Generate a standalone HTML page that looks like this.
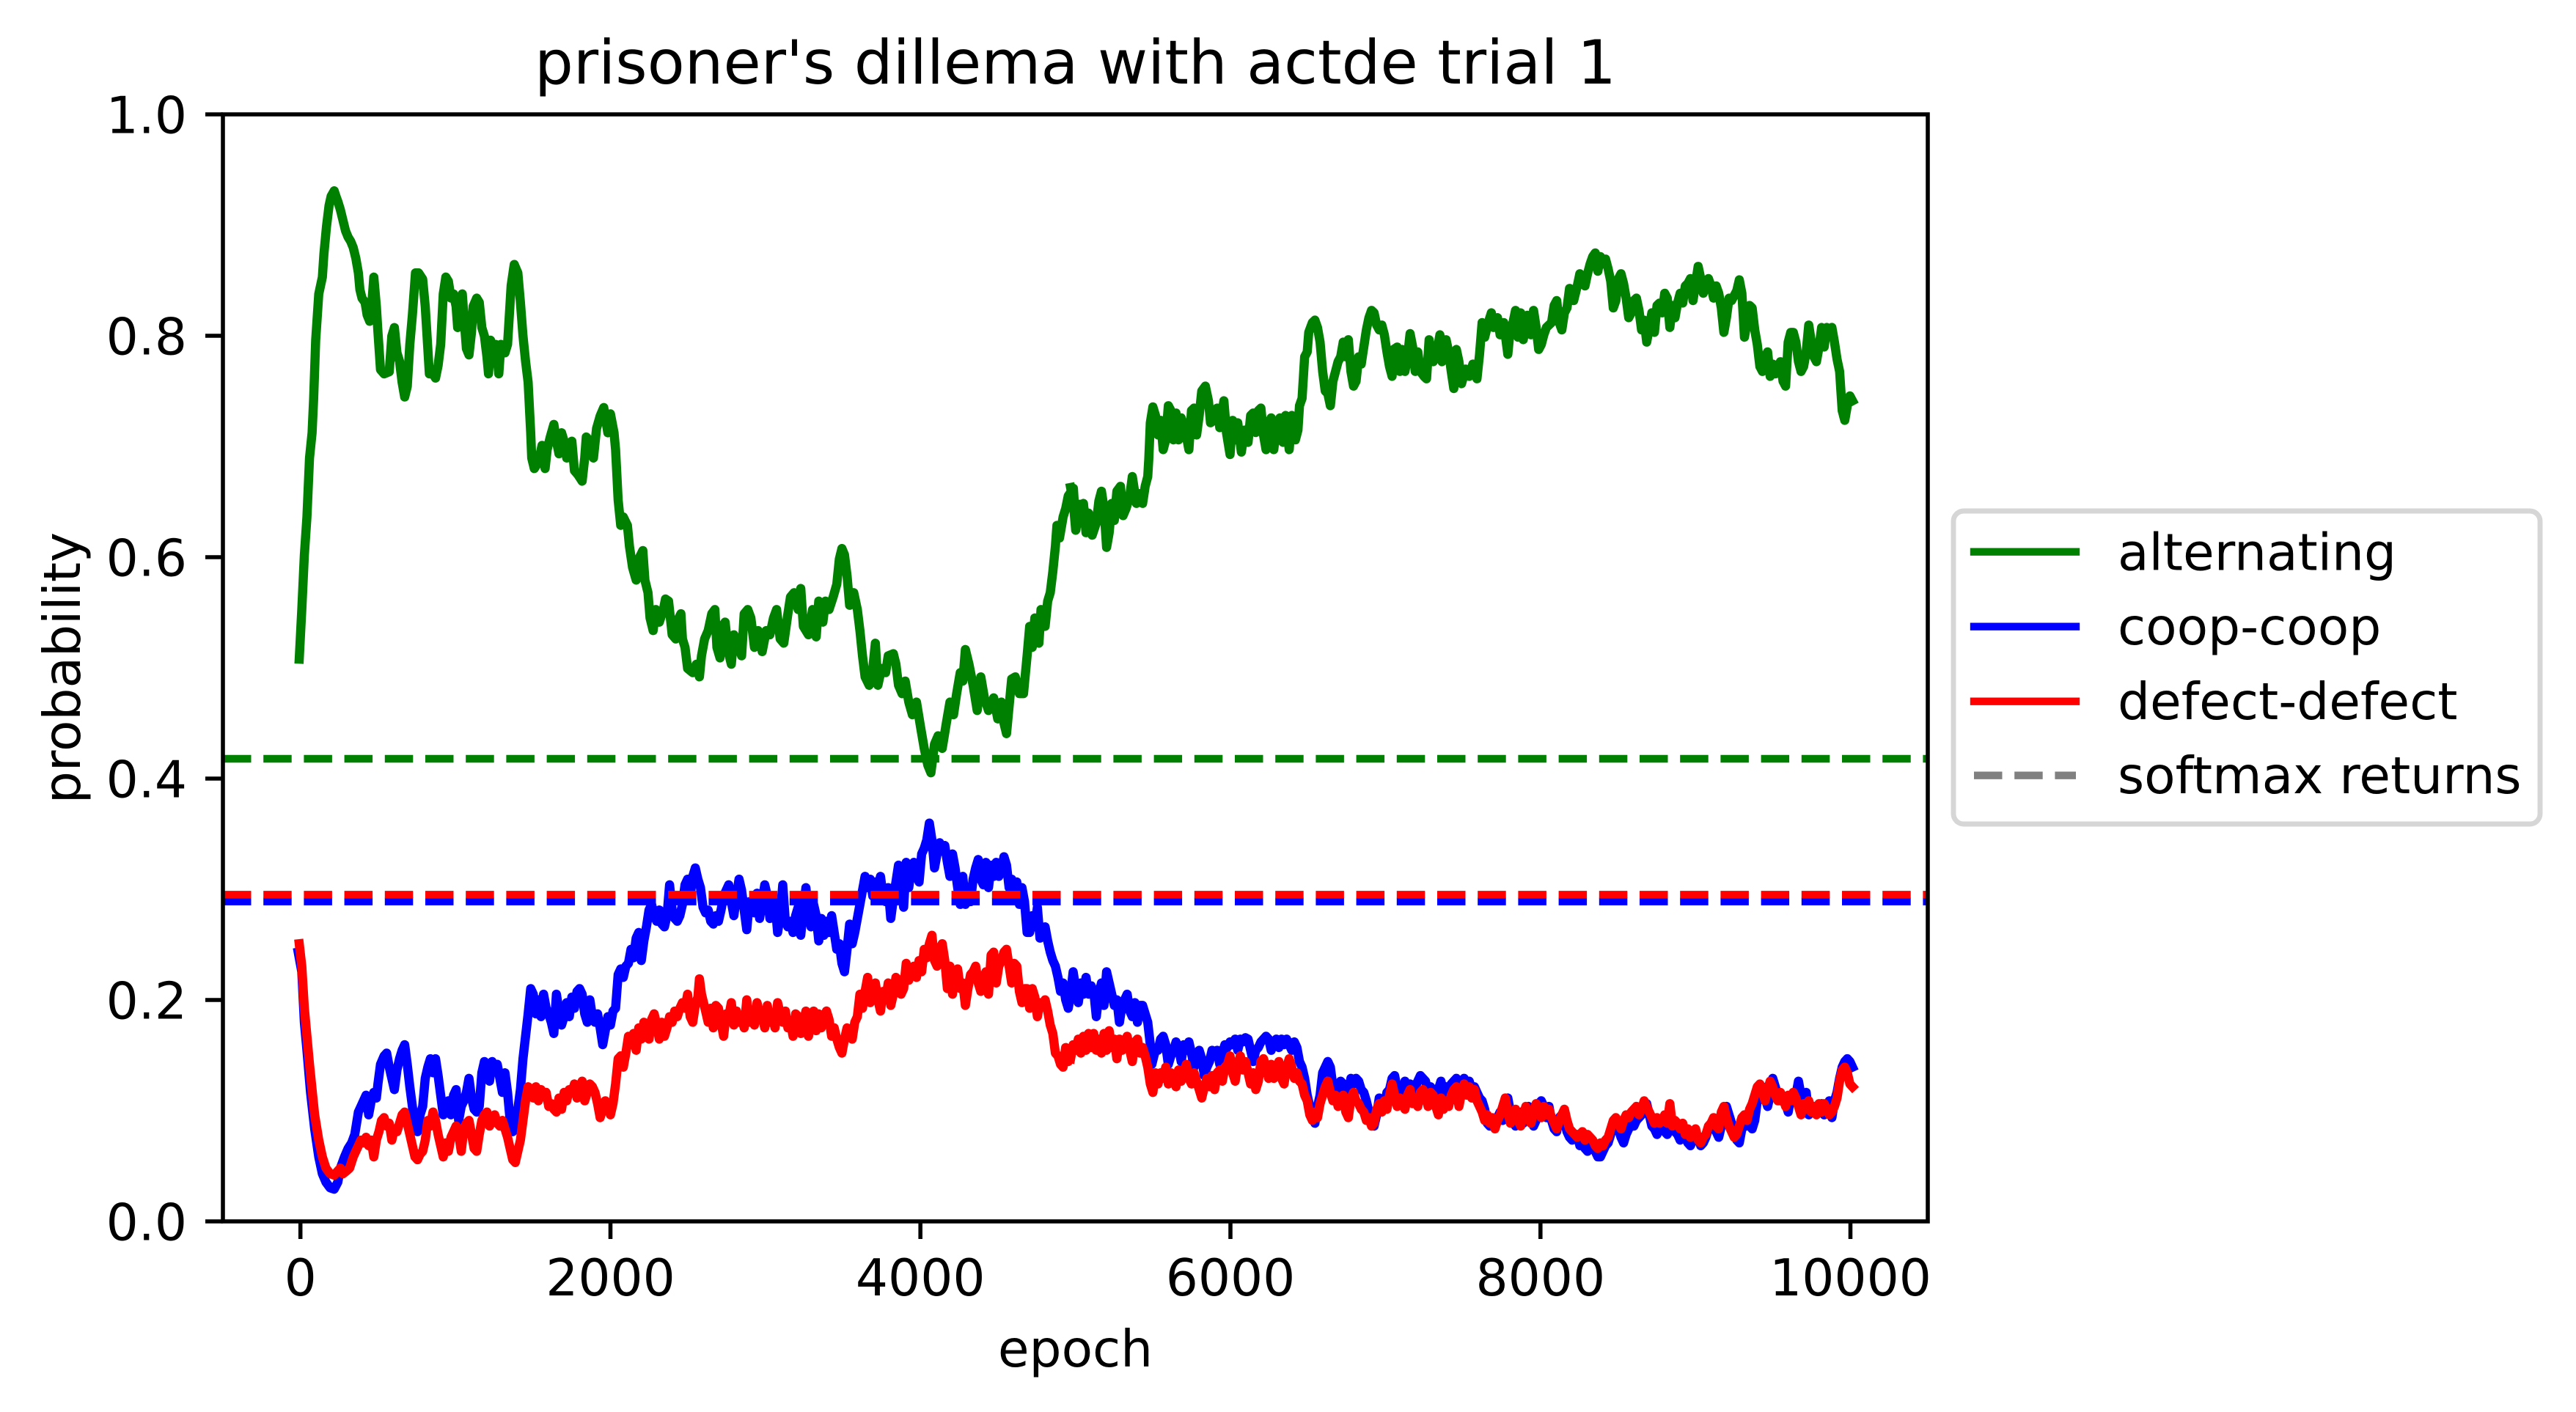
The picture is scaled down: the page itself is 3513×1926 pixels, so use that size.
<!DOCTYPE html>
<html>
<head>
<meta charset="utf-8">
<style>
html,body{margin:0;padding:0;background:#fff;}
svg{display:block;}
text{font-family:"DejaVu Sans","Liberation Sans",sans-serif;fill:#000;}
.s{fill:none;stroke-width:12.5;stroke-linejoin:round;stroke-linecap:square;vector-effect:non-scaling-stroke;}
</style>
</head>
<body>
<svg width="3513" height="1926" viewBox="0 0 3513 1926" xmlns="http://www.w3.org/2000/svg">
<rect x="0" y="0" width="3513" height="1926" fill="#fff"/>

<!-- green series -->
<g transform="translate(380,200) scale(0.70151,0.57399)">
<polyline class="s" stroke="#008000" points="40,1218 45,1100 50,970 55,880 60,740 65,680 68,600 72,460 78,350 85,310 88,255 93,190 98,140 102,118 108,105 112,120 115,130 120,150 125,175 130,200 135,215 140,225 145,240 150,265 155,300 158,340 162,360 168,370 172,400 177,415 182,360 185,310 190,380 193,440 198,530 205,540 215,535 220,450 225,430 230,490 235,510 240,560 245,595 250,570 255,470 260,400 263,350 266,300 272,300 280,315 285,380 290,480 293,540 300,540 305,550 310,520 315,470 320,350 325,310 330,320 335,360 340,350 345,380 348,430 352,420 357,350 360,400 365,480 370,495 375,440 378,380 385,360 390,370 395,430 400,450 405,500 408,540 412,460 418,500 422,470 428,540 432,470 440,490 445,470 448,410 452,330 458,280 465,300 470,370 475,450 480,510 485,560 490,680 492,740 497,765 505,750 512,710 518,765 522,720 528,690 535,660 540,700 545,730 550,680 555,700 560,740 565,710 570,700 575,770 582,780 590,795 595,740 598,690 605,700 612,740 618,670 625,640 632,620 640,680 645,635 652,680 655,720 660,840 665,900 670,880 678,900 682,950 688,1000 695,1030 700,980 708,960 712,1030 718,1060 722,1120 728,1150 733,1100 740,1130 748,1100 752,1075 758,1080 765,1160 772,1170 778,1120 782,1110 785,1170 790,1190 795,1240 805,1250 812,1230 818,1260 822,1210 828,1170 835,1150 842,1110 848,1100 852,1190 858,1215 862,1140 868,1130 874,1200 880,1230 885,1160 892,1180 900,1210 905,1110 912,1100 918,1120 925,1190 932,1150 940,1200 948,1150 955,1160 962,1120 968,1100 975,1170 982,1180 990,1110 995,1070 1002,1060 1010,1100 1015,1050 1020,1140 1030,1160 1038,1100 1045,1165 1050,1080 1058,1130 1063,1080 1070,1100 1078,1070 1085,1040 1090,980 1095,955 1100,970 1105,1020 1110,1090 1118,1060 1125,1100 1130,1150 1135,1210 1140,1260 1148,1280 1155,1240 1160,1180 1165,1280 1172,1240 1180,1250 1185,1210 1195,1205 1200,1230 1205,1280 1212,1300 1218,1270 1225,1320 1232,1350 1240,1320 1248,1380 1255,1430 1262,1470 1268,1488 1275,1420 1282,1400 1290,1430 1298,1370 1305,1320 1312,1350 1318,1300 1325,1250 1330,1270 1335,1195 1342,1230 1350,1280 1358,1340 1365,1260 1372,1310 1380,1340 1390,1310 1398,1360 1405,1320 1410,1370 1415,1395 1420,1330 1425,1265 1432,1260 1440,1300 1448,1300 1455,1210 1460,1140 1465,1190 1470,1120 1478,1180 1482,1100 1490,1140 1495,1080 1500,1060 1505,1010 1510,950 1513,900 1518,930 1525,880 1530,860 1535,830 1545,812 1550,910 1555,850 1563,850 1568,870"/>
</g>
<g transform="translate(1460,300) scale(0.70151,0.33333)">
<polyline class="s" stroke="#008000" points="0,1095 5,1150 10,1270 15,1180 20,1240 25,1160 30,1280 35,1200 42,1290 50,1240 55,1150 60,1110 65,1180 70,1340 75,1280 80,1160 85,1230 90,1110 97,1090 102,1210 108,1180 115,1130 120,1050 128,1160 135,1120 140,1160 145,1090 150,1050 152,980 155,830 160,765 165,800 170,880 175,820 180,940 185,900 190,760 195,780 200,900 205,790 210,900 215,810 222,850 230,940 235,780 240,770 245,880 250,800 255,700 262,680 268,740 272,830 278,820 285,770 290,850 298,740 303,870 310,960 315,820 320,900 325,830 332,950 338,860 345,910 350,800 355,790 360,870 365,780 370,770 375,880 380,940 385,830 390,810 395,940 400,850 407,810 413,910 418,800 425,940 430,800 437,900 442,860 445,760 450,730 455,560 460,540 463,460 470,420 475,410 480,440 485,500 490,620 495,700 500,710 505,760 510,660 515,620 520,580 525,560 530,500 535,560 540,490 545,620 550,680 555,660 560,560 565,590 570,520 575,450 580,400 585,370 590,380 595,430 600,450 605,430 610,470 615,540 620,600 625,640 628,530 635,520 640,620 645,530 650,620 655,560 660,465 665,520 670,620 675,540 680,620 687,640 692,650 697,490 702,560 705,580 712,540 718,470 722,580 730,490 735,540 740,620 745,690 750,530 755,580 760,670 768,610 775,640 782,590 790,650 795,550 800,420 805,480 812,420 818,380 822,440 830,400 835,470 842,420 850,550 855,440 860,420 865,370 870,480 875,380 880,490 888,390 895,470 900,370 905,440 910,530 915,510 920,470 925,440 930,430 935,420 940,350 945,330 950,420 955,450 960,380 965,360 970,280 978,330 985,270 990,220 995,240 1000,270 1005,220 1010,180 1015,150 1020,135 1025,210 1030,150 1035,180 1040,160 1045,200 1050,250 1055,360 1060,330 1065,240 1070,220 1075,260 1080,320 1085,400 1090,380 1095,330 1100,320 1105,370 1110,450 1115,410 1120,500 1125,440 1130,380 1135,460 1140,350 1145,340 1150,380 1155,300 1160,320 1165,440 1170,350 1175,400 1180,340 1185,300 1190,340 1195,270 1200,260 1205,240 1210,330 1215,260 1220,190 1225,240 1230,300 1235,250 1240,240 1245,270 1250,320 1255,270 1260,300 1265,360 1270,460 1275,400 1280,320 1285,330 1290,310 1295,290 1300,245 1305,300 1310,480 1315,420 1320,350 1325,360 1330,450 1335,510 1340,600 1345,620 1350,560 1355,540 1360,640 1365,590 1370,630 1375,600 1380,580 1385,660 1390,680 1395,500 1400,460 1405,460 1410,500 1415,580 1420,620 1425,600 1430,540 1435,430 1440,500 1445,560 1450,580 1455,520 1460,440 1465,520 1470,440 1475,450 1480,440 1485,500 1490,570 1495,620 1500,780 1505,820 1510,760 1515,720 1520,740"/>
</g>

<!-- blue series -->
<g transform="translate(380,1050) scale(0.70151,0.38265)">
<polyline class="s" stroke="#0000ff" points="38,650 45,720 50,900 55,1000 62,1150 70,1280 78,1380 85,1440 92,1470 100,1490 108,1495 115,1470 120,1420 128,1380 135,1350 142,1330 148,1300 155,1220 160,1200 165,1180 170,1160 175,1230 180,1180 185,1150 190,1170 193,1120 198,1050 205,1020 210,1010 215,1060 220,1100 225,1140 230,1070 235,1030 240,1000 245,980 250,1050 255,1130 260,1200 265,1280 270,1290 275,1230 280,1200 285,1100 290,1060 295,1030 300,1080 305,1030 310,1090 315,1160 320,1230 325,1200 330,1180 335,1230 340,1160 345,1140 350,1250 355,1200 360,1180 365,1150 370,1100 375,1170 380,1210 385,1220 390,1200 395,1080 400,1040 405,1060 410,1110 415,1040 420,1060 425,1050 430,1100 435,1150 440,1080 445,1150 450,1250 455,1290 460,1280 465,1210 470,1140 475,1030 480,950 485,870 490,780 495,800 500,870 505,820 510,880 515,800 520,850 525,870 530,900 535,940 540,800 545,860 550,910 555,880 560,830 565,880 570,810 575,850 580,790 585,780 590,800 595,870 600,900 605,820 610,880 615,900 620,870 625,920 630,980 635,930 640,880 645,910 650,860 655,850 660,730 665,710 670,740 675,700 680,690 685,640 690,670 695,600 700,580 705,680 710,610 715,560 720,500 725,480 730,520 735,540 740,500 745,550 750,560 755,520 760,410 765,500 770,530 775,540 780,520 785,480 790,410 795,390 800,450 805,380 810,350 815,390 820,420 825,490 830,510 835,500 840,540 845,550 850,520 855,540 860,500 865,450 870,430 875,410 880,470 885,520 890,450 895,390 900,430 905,500 910,570 915,470 920,480 925,510 930,440 935,530 940,470 945,410 950,450 955,530 960,500 965,470 970,580 975,520 980,410 985,540 990,560 995,540 1000,580 1005,520 1010,490 1015,590 1020,500 1025,420 1030,510 1035,560 1040,480 1045,520 1050,610 1055,530 1060,590 1065,540 1070,580 1075,520 1080,580 1085,640 1090,620 1095,690 1100,720 1105,640 1110,550 1115,620 1120,580 1125,530 1130,480 1135,430 1140,380 1145,420 1150,390 1155,450 1160,400 1165,420 1170,380 1175,450 1180,470 1185,420 1190,530 1195,460 1200,400 1205,340 1210,420 1215,490 1220,330 1225,420 1230,350 1235,330 1240,380 1245,400 1250,300 1255,280 1260,250 1265,190 1270,250 1275,350 1280,300 1285,260 1290,290 1295,270 1300,330 1305,380 1310,300 1315,350 1320,420 1325,480 1330,380 1335,480 1340,460 1345,470 1350,390 1355,350 1360,320 1365,390 1370,410 1375,330 1380,420 1385,340 1390,380 1395,330 1400,380 1405,360 1410,310 1415,340 1420,420 1425,390 1430,420 1435,400 1440,480 1445,420 1450,470 1455,580 1460,580 1465,520 1470,560 1475,490 1480,600 1485,580 1490,560 1495,610 1500,650 1505,680 1510,700 1515,740 1520,790 1525,760 1530,820 1535,850 1540,800"/>
</g>
<g transform="translate(1460,1050) scale(0.70151,0.38265)">
<polyline class="s" stroke="#0000ff" points="0,800 5,720 10,780 15,830 20,760 25,800 30,740 35,800 40,770 45,790 50,880 55,800 60,760 65,840 70,720 75,760 80,800 85,840 90,820 95,900 100,840 105,820 110,800 115,860 120,880 125,830 130,900 135,840 140,840 145,870 150,900 155,980 158,1050 162,1020 165,1000 170,1000 175,960 180,950 185,980 190,1050 195,1020 200,1000 205,970 210,990 215,1040 220,980 225,1000 230,970 235,1010 240,1060 245,1040 250,1000 255,1030 260,1090 265,1060 270,1040 275,1000 280,1020 285,1000 290,1050 295,1010 300,980 305,990 310,970 315,980 320,960 325,1000 330,960 335,970 340,955 345,960 350,1000 355,1040 360,1000 365,990 370,970 375,960 380,950 385,960 390,1000 395,970 400,960 405,990 410,960 415,980 420,960 425,980 430,1000 435,970 440,990 445,1040 450,1060 455,1100 460,1160 465,1200 470,1240 475,1260 480,1200 485,1160 490,1080 495,1060 500,1040 505,1060 510,1130 515,1160 520,1140 525,1110 530,1120 535,1180 540,1150 545,1100 550,1120 555,1100 560,1110 565,1140 570,1150 575,1180 580,1220 585,1240 590,1270 595,1230 600,1170 605,1190 610,1200 615,1150 620,1140 625,1100 630,1090 635,1140 640,1180 645,1160 650,1110 655,1140 660,1120 665,1150 670,1130 675,1110 680,1090 685,1100 690,1110 695,1150 700,1130 705,1150 710,1180 715,1140 720,1110 725,1150 730,1130 735,1170 740,1120 745,1110 750,1100 755,1140 760,1110 765,1100 770,1120 775,1110 780,1140 785,1130 790,1150 795,1170 800,1180 805,1210 810,1260 815,1270 820,1250 825,1270 830,1240 835,1220 840,1250 845,1200 850,1170 855,1220 860,1250 865,1270 870,1240 875,1220 880,1260 885,1220 890,1200 895,1240 900,1270 905,1250 910,1190 915,1180 920,1200 925,1240 930,1200 935,1250 940,1280 945,1290 950,1240 955,1230 960,1250 965,1290 970,1310 975,1320 980,1310 985,1300 990,1340 995,1330 1000,1350 1005,1360 1010,1340 1015,1330 1020,1360 1025,1380 1030,1380 1035,1360 1040,1340 1045,1330 1050,1300 1055,1270 1060,1250 1065,1280 1070,1310 1075,1330 1080,1300 1085,1280 1090,1260 1095,1270 1100,1250 1105,1240 1110,1230 1115,1210 1120,1190 1125,1230 1130,1270 1135,1280 1140,1300 1145,1270 1150,1250 1155,1290 1160,1300 1165,1280 1170,1260 1175,1290 1180,1300 1185,1320 1190,1300 1195,1310 1200,1330 1205,1340 1210,1320 1215,1300 1220,1310 1225,1340 1230,1330 1235,1310 1240,1280 1245,1260 1250,1250 1255,1290 1260,1310 1265,1270 1270,1250 1275,1200 1280,1230 1285,1260 1290,1290 1295,1320 1300,1330 1305,1280 1310,1260 1315,1270 1320,1240 1325,1280 1330,1250 1335,1180 1340,1150 1345,1130 1350,1170 1355,1200 1360,1160 1365,1100 1370,1130 1375,1160 1380,1180 1385,1170 1390,1190 1395,1220 1400,1170 1405,1150 1410,1160 1415,1110 1420,1160 1425,1180 1430,1150 1435,1230 1440,1210 1445,1200 1450,1220 1455,1210 1460,1190 1465,1230 1470,1210 1475,1180 1480,1240 1485,1180 1490,1150 1495,1100 1500,1060 1505,1040 1510,1030 1515,1040 1520,1060"/>
</g>

<!-- red series -->
<g transform="translate(380,1050) scale(0.70151,0.38265)">
<polyline class="s" stroke="#ff0000" points="40,620 45,700 50,850 55,950 60,1050 65,1140 70,1230 78,1320 85,1380 92,1420 100,1440 108,1445 115,1430 120,1420 125,1440 132,1430 138,1420 145,1380 150,1360 155,1340 160,1320 165,1330 170,1310 175,1340 180,1320 185,1380 190,1320 195,1290 200,1250 205,1240 210,1270 215,1260 220,1320 225,1280 230,1290 235,1260 240,1230 245,1220 250,1260 255,1300 260,1340 265,1380 270,1390 275,1370 280,1360 285,1320 290,1250 295,1270 300,1220 305,1250 310,1300 315,1340 320,1380 325,1330 330,1360 335,1310 340,1290 345,1270 350,1300 355,1360 360,1280 365,1260 370,1250 375,1300 380,1350 385,1360 390,1300 395,1250 400,1230 405,1220 410,1270 415,1250 420,1230 425,1260 430,1270 435,1250 440,1280 445,1310 450,1350 455,1390 460,1400 465,1360 470,1320 475,1250 480,1180 485,1130 490,1150 495,1170 500,1130 505,1180 510,1140 515,1160 520,1150 525,1200 530,1190 535,1210 540,1220 545,1170 550,1210 555,1150 560,1180 565,1140 570,1150 575,1120 580,1170 585,1130 590,1110 595,1180 600,1150 605,1120 610,1130 615,1150 620,1190 625,1240 630,1210 635,1180 640,1200 645,1230 650,1190 655,1120 660,1030 665,1020 670,1060 675,1010 680,950 685,980 690,940 695,1000 700,920 705,960 710,900 715,920 720,960 725,890 730,870 735,910 740,960 745,900 750,950 755,920 760,880 765,900 770,860 775,880 780,850 785,830 790,850 795,800 800,880 805,900 810,840 815,810 818,745 822,800 830,860 835,900 840,850 845,920 850,840 855,850 860,900 865,950 870,870 875,880 880,830 885,910 890,860 895,900 900,880 905,920 910,820 915,900 920,860 925,910 930,830 935,870 940,880 945,920 950,840 955,900 960,880 965,920 970,830 975,870 980,900 985,860 990,920 995,900 1000,950 1005,870 1010,880 1015,940 1020,900 1025,860 1030,950 1035,900 1040,860 1045,930 1050,870 1055,920 1060,880 1065,860 1070,890 1075,950 1080,920 1085,960 1090,990 1095,1010 1100,960 1105,920 1110,950 1115,960 1120,900 1125,880 1130,800 1135,850 1140,790 1145,740 1150,830 1155,800 1160,760 1165,820 1170,860 1175,790 1180,820 1185,760 1190,840 1195,800 1200,740 1205,750 1210,800 1215,780 1220,690 1225,750 1230,720 1235,700 1240,740 1245,680 1250,720 1255,640 1260,670 1265,620 1270,590 1275,680 1280,700 1285,640 1290,620 1295,680 1300,780 1305,700 1310,800 1315,720 1320,710 1325,780 1330,760 1335,840 1340,780 1345,730 1350,720 1355,700 1360,760 1365,790 1370,740 1375,720 1380,800 1385,660 1390,650 1395,760 1400,700 1405,680 1410,650 1415,640 1420,700 1425,760 1430,690 1435,700 1440,790 1445,830 1450,780 1455,780 1460,850 1465,780 1470,810 1475,880 1480,830 1485,840 1490,820 1495,860 1500,910 1505,940 1510,1010 1515,1020 1520,1050 1525,1060 1530,990 1535,1040 1540,1000"/>
</g>
<g transform="translate(1460,1050) scale(0.70151,0.38265)">
<polyline class="s" stroke="#ff0000" points="0,1030 5,980 10,1000 15,960 20,1010 25,950 30,1000 35,940 40,990 45,940 50,1000 55,960 60,1010 65,940 70,1000 75,930 80,990 85,960 90,1030 95,960 100,1000 105,970 110,950 115,1000 120,1040 125,970 130,960 135,1010 140,990 145,1020 150,1060 155,1120 160,1150 165,1080 170,1120 175,1080 180,1100 185,1060 190,1120 195,1080 200,1100 205,1130 210,1070 215,1110 220,1080 225,1050 230,1100 235,1120 240,1080 245,1110 250,1140 255,1170 260,1130 265,1100 270,1130 275,1090 280,1140 285,1080 290,1070 295,1110 300,1060 305,1050 310,1020 315,1080 320,1110 325,1050 330,1020 335,1070 340,1040 345,1080 350,1120 355,1080 360,1140 365,1110 370,1040 375,1030 380,1060 385,1100 390,1050 395,1100 400,1080 405,1040 410,1100 415,1120 420,1060 425,1030 430,1060 435,1100 440,1080 445,1110 450,1120 455,1160 460,1180 465,1230 470,1250 475,1220 480,1240 485,1190 490,1160 495,1130 500,1110 505,1150 510,1180 515,1160 520,1200 525,1180 530,1160 535,1220 540,1240 545,1170 550,1150 555,1180 560,1190 565,1210 570,1220 575,1250 580,1240 585,1270 590,1260 595,1210 600,1190 605,1220 610,1180 615,1210 620,1160 625,1120 630,1160 635,1200 640,1170 645,1190 650,1210 655,1160 660,1140 665,1190 670,1170 675,1200 680,1150 685,1140 690,1160 695,1200 700,1150 705,1160 710,1200 715,1230 720,1170 725,1210 730,1180 735,1200 740,1160 745,1140 750,1130 755,1200 760,1150 765,1120 770,1160 775,1130 780,1170 785,1140 790,1180 795,1200 800,1220 805,1250 810,1230 815,1260 820,1240 825,1280 830,1250 835,1230 840,1200 845,1170 850,1220 855,1260 860,1240 865,1210 870,1250 875,1270 880,1230 885,1200 890,1240 895,1260 900,1220 905,1190 910,1210 915,1240 920,1200 925,1230 930,1210 935,1240 940,1260 945,1280 950,1250 955,1230 960,1210 965,1250 970,1280 975,1290 980,1300 985,1310 990,1300 995,1290 1000,1320 1005,1300 1010,1310 1015,1320 1020,1340 1025,1350 1030,1330 1035,1340 1040,1320 1045,1310 1050,1280 1055,1250 1060,1240 1065,1260 1070,1280 1075,1250 1080,1230 1085,1240 1090,1220 1095,1210 1100,1200 1105,1230 1110,1210 1115,1180 1120,1200 1125,1220 1130,1240 1135,1260 1140,1240 1145,1260 1150,1250 1155,1230 1160,1260 1165,1190 1170,1270 1175,1250 1180,1260 1185,1280 1190,1260 1195,1300 1200,1280 1205,1310 1210,1300 1215,1280 1220,1320 1225,1330 1230,1310 1235,1300 1240,1270 1245,1260 1250,1240 1255,1270 1260,1280 1265,1220 1270,1200 1275,1240 1280,1270 1285,1290 1290,1310 1295,1300 1300,1270 1305,1240 1310,1230 1315,1250 1320,1210 1325,1190 1330,1160 1335,1130 1340,1120 1345,1150 1350,1180 1355,1140 1360,1110 1365,1130 1370,1160 1375,1180 1380,1150 1385,1170 1390,1200 1395,1160 1400,1180 1405,1150 1410,1170 1415,1200 1420,1230 1425,1190 1430,1210 1435,1180 1440,1220 1445,1200 1450,1230 1455,1190 1460,1220 1465,1190 1470,1210 1475,1230 1480,1220 1485,1200 1490,1170 1495,1110 1500,1070 1505,1060 1510,1080 1515,1120 1520,1130"/>
</g>

<!-- softmax returns dashed lines -->
<g fill="none" stroke-width="10.4" stroke-dasharray="38.5 16.7" stroke-linecap="butt">
<line x1="304" y1="1035" x2="2629" y2="1035" stroke="#008000"/>
<line x1="304" y1="1229.7" x2="2629" y2="1229.7" stroke="#0000ff"/>
<line x1="304" y1="1220.3" x2="2629" y2="1220.3" stroke="#ff0000"/>
</g>

<!-- axes frame -->
<rect x="304" y="156" width="2325" height="1510" fill="none" stroke="#000" stroke-width="5.56" stroke-linejoin="miter"/>

<!-- y ticks -->
<g stroke="#000" stroke-width="5.56">
<line x1="280" y1="1666" x2="304" y2="1666"/>
<line x1="280" y1="1364" x2="304" y2="1364"/>
<line x1="280" y1="1062" x2="304" y2="1062"/>
<line x1="280" y1="760" x2="304" y2="760"/>
<line x1="280" y1="458" x2="304" y2="458"/>
<line x1="280" y1="156" x2="304" y2="156"/>
<!-- x ticks -->
<line x1="409.7" y1="1666" x2="409.7" y2="1690"/>
<line x1="832.5" y1="1666" x2="832.5" y2="1690"/>
<line x1="1255.2" y1="1666" x2="1255.2" y2="1690"/>
<line x1="1678" y1="1666" x2="1678" y2="1690"/>
<line x1="2100.8" y1="1666" x2="2100.8" y2="1690"/>
<line x1="2523.5" y1="1666" x2="2523.5" y2="1690"/>
</g>

<!-- y tick labels -->
<g font-size="69.4" text-anchor="end">
<text x="255" y="1691.5">0.0</text>
<text x="255" y="1389.5">0.2</text>
<text x="255" y="1087.5">0.4</text>
<text x="255" y="785.5">0.6</text>
<text x="255" y="483.5">0.8</text>
<text x="255" y="181.5">1.0</text>
</g>
<!-- x tick labels -->
<g font-size="69.4" text-anchor="middle">
<text x="409.7" y="1767">0</text>
<text x="832.5" y="1767">2000</text>
<text x="1255.2" y="1767">4000</text>
<text x="1678" y="1767">6000</text>
<text x="2100.8" y="1767">8000</text>
<text x="2523.5" y="1767">10000</text>
</g>

<!-- axis labels & title -->
<text x="1466.5" y="1864" font-size="69.4" text-anchor="middle">epoch</text>
<text x="0" y="0" font-size="69.4" text-anchor="middle" transform="translate(109,911) rotate(-90)">probability</text>
<text x="1466.5" y="114" font-size="83.3" text-anchor="middle">prisoner's dillema with actde trial 1</text>

<!-- legend -->
<rect x="2664" y="697" width="800" height="427" rx="14" ry="14" fill="#fff" fill-opacity="0.8" stroke="#d6d6d6" stroke-width="6.9"/>
<g stroke-width="10.4">
<line x1="2692" y1="752.7" x2="2831" y2="752.7" stroke="#008000" stroke-linecap="square"/>
<line x1="2692" y1="854.7" x2="2831" y2="854.7" stroke="#0000ff" stroke-linecap="square"/>
<line x1="2692" y1="956.7" x2="2831" y2="956.7" stroke="#ff0000" stroke-linecap="square"/>
<line x1="2692" y1="1057.7" x2="2831" y2="1057.7" stroke="#808080" stroke-dasharray="38.5 16.7" stroke-linecap="butt"/>
</g>
<g font-size="69.4">
<text x="2888" y="777.3">alternating</text>
<text x="2888" y="879.2">coop-coop</text>
<text x="2888" y="981.2">defect-defect</text>
<text x="2888" y="1082.2">softmax returns</text>
</g>
</svg>
</body>
</html>
